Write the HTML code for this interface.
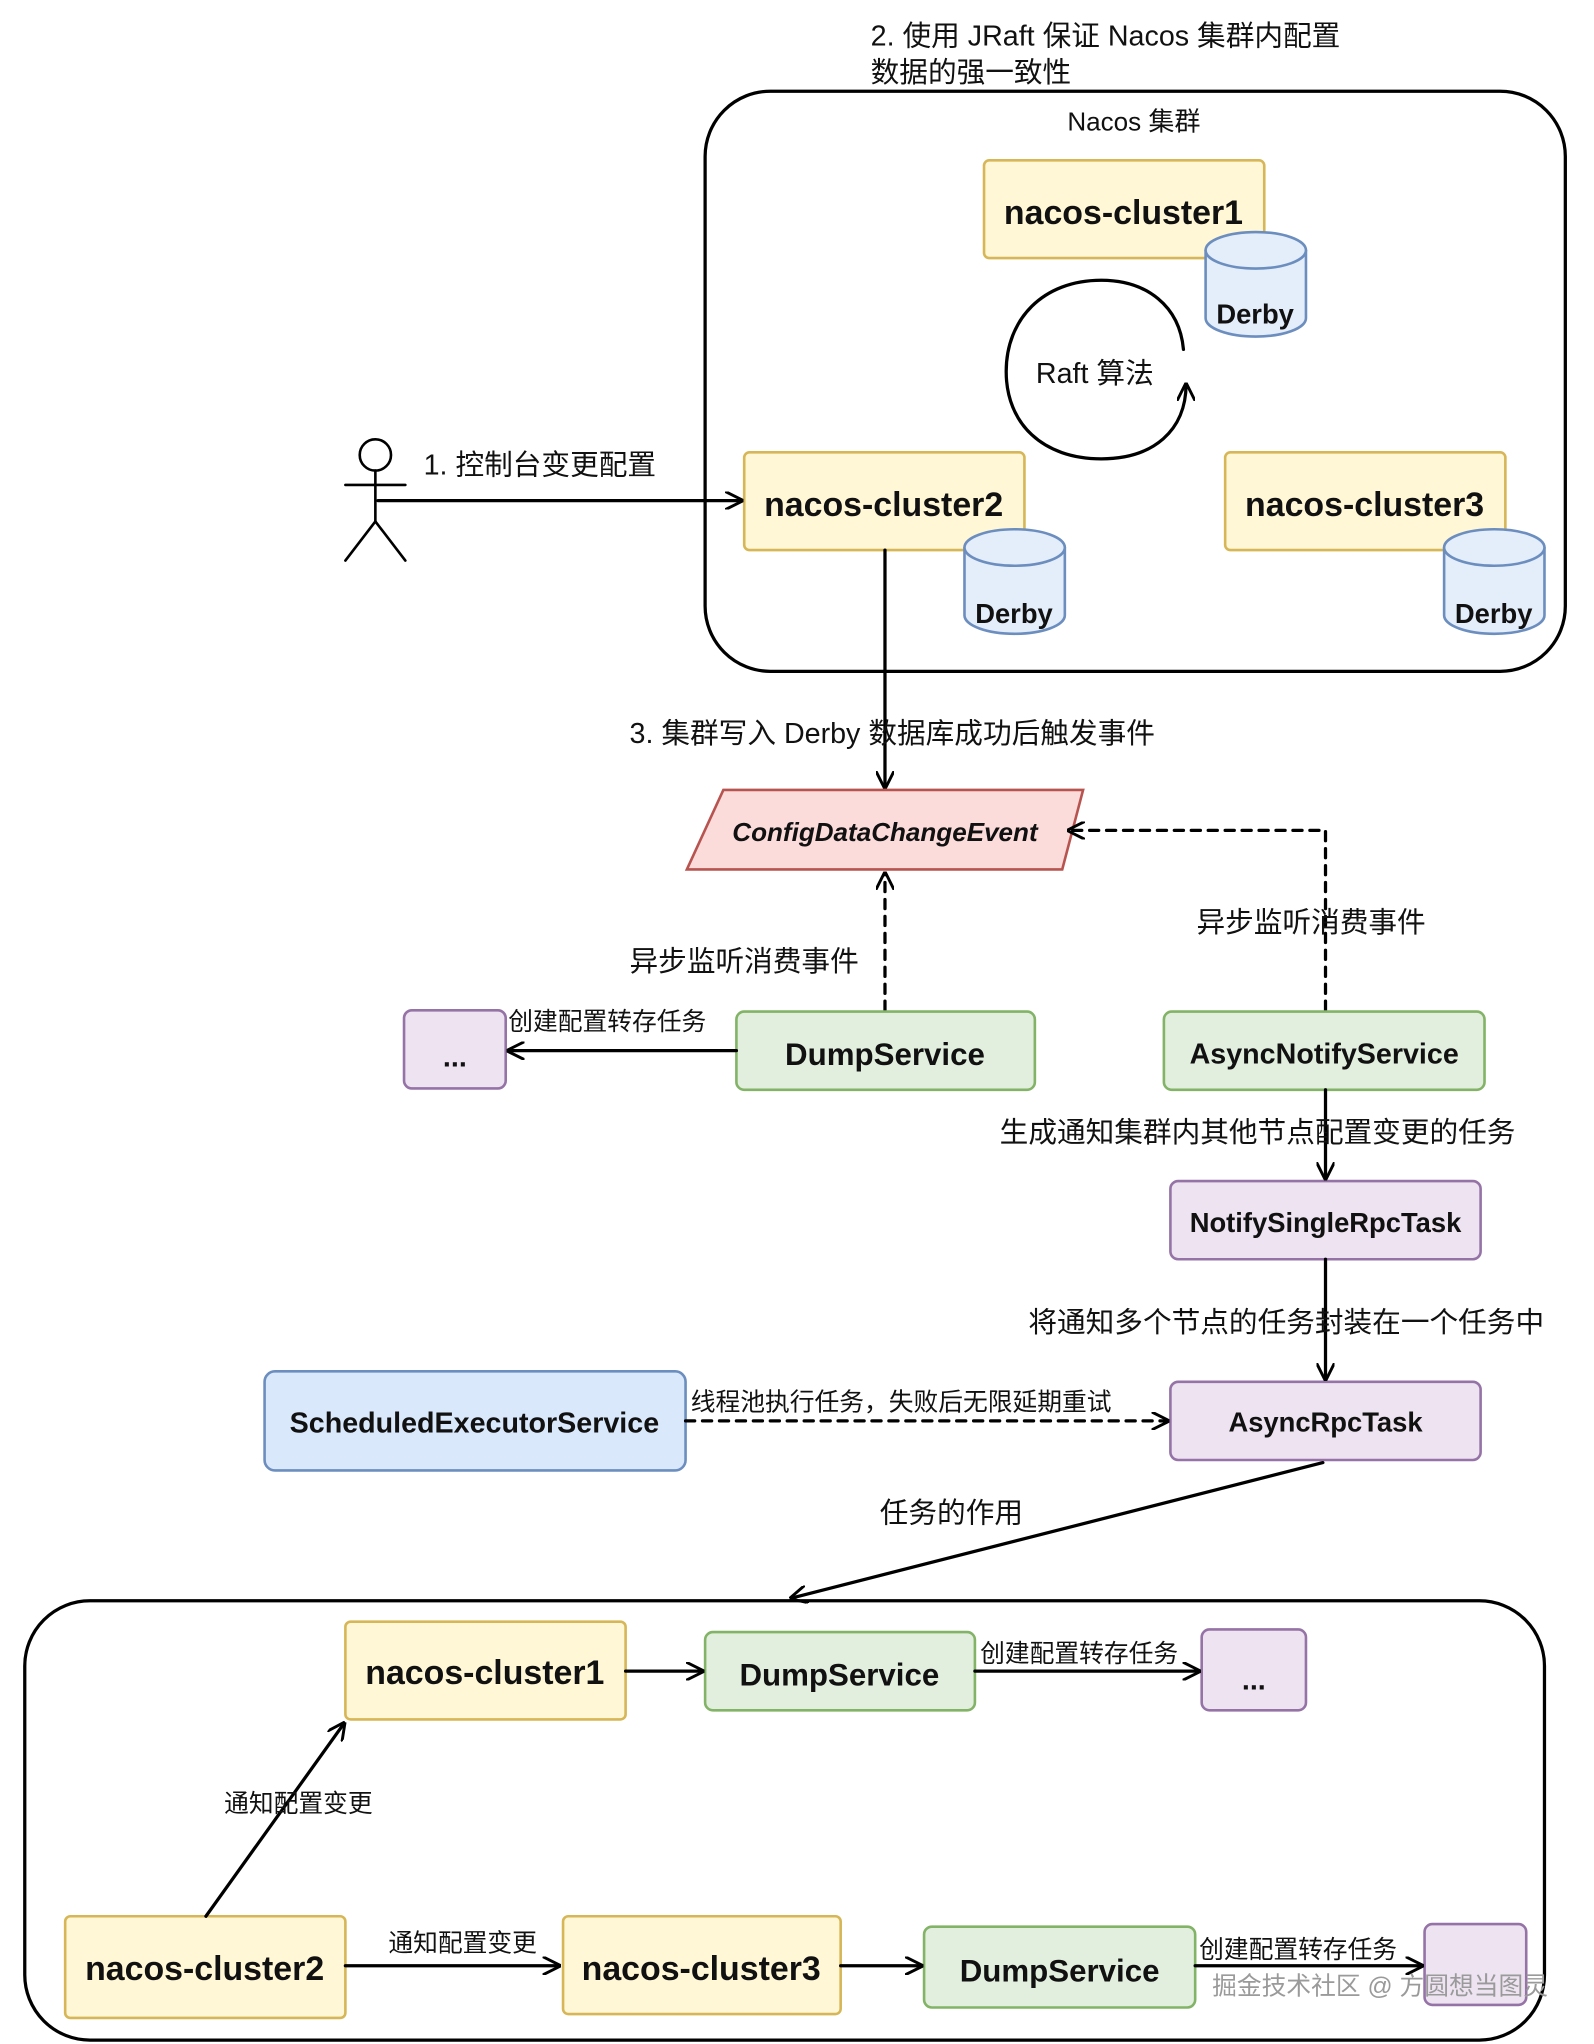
<!DOCTYPE html>
<html><head><meta charset="utf-8"><style>
html,body{margin:0;padding:0;background:#fff}
svg{display:block}
text{font-family:"Liberation Sans","Noto Sans CJK SC",sans-serif;fill:#111}
.b{font-weight:bold}
</style></head><body>
<svg width="1594" height="2044" viewBox="0 0 1223 1568" preserveAspectRatio="none" xmlns="http://www.w3.org/2000/svg">
<defs>
<marker id="a2" viewBox="0 0 10 10" refX="9" refY="5" markerWidth="14" markerHeight="14" orient="auto" markerUnits="userSpaceOnUse"><path d="M0,0 L10,5 L0,10" fill="none" stroke="#000" stroke-width="1.6"/></marker>
</defs>
<g stroke-linecap="round">
<text x="668" y="35" font-size="22">2. 使用 JRaft 保证 Nacos 集群内配置</text>
<text x="668" y="63" font-size="22">数据的强一致性</text>
<rect x="541" y="70" width="660" height="445" rx="50" fill="none" stroke="#000" stroke-width="2.5"/>
<text x="870" y="100" font-size="20" text-anchor="middle">Nacos 集群</text>

<g fill="#fff7d6" stroke="#d6b656" stroke-width="2">
<rect x="755" y="123" width="215" height="75" rx="4"/>
<rect x="571" y="347" width="215" height="75" rx="4"/>
<rect x="940" y="347" width="215" height="75" rx="4"/>
</g>
<g class="b" font-size="26" text-anchor="middle">
<text x="862" y="172" class="b">nacos-cluster1</text>
<text x="678" y="396" class="b">nacos-cluster2</text>
<text x="1047" y="396" class="b">nacos-cluster3</text>
</g>
<g fill="#e4eefb" stroke="#6c8ebf" stroke-width="2">
<path d="M925,192 v52 a38,14 0 0 0 77,0 v-52"/><ellipse cx="963.5" cy="192" rx="38.5" ry="14"/>
<path d="M740,420 v52 a38,14 0 0 0 77,0 v-52"/><ellipse cx="778.5" cy="420" rx="38.5" ry="14"/>
<path d="M1108,420 v52 a38,14 0 0 0 77,0 v-52"/><ellipse cx="1146.5" cy="420" rx="38.5" ry="14"/>
</g>
<text x="963" y="248" font-size="21" class="b" text-anchor="middle">Derby</text>
<text x="778" y="478" font-size="21" class="b" text-anchor="middle">Derby</text>
<text x="1146" y="478" font-size="21" class="b" text-anchor="middle">Derby</text>
<path d="M908,268 C905,235 880,215 845,215 C800,215 772,245 772,285 C772,325 800,352 845,352 C885,352 910,330 910,295" fill="none" stroke="#000" stroke-width="2.5" marker-end="url(#a2)"/>
<text x="840" y="294" font-size="22" text-anchor="middle">Raft 算法</text>

<g stroke="#000" stroke-width="2" fill="none">
<circle cx="288" cy="349" r="12"/>
<line x1="288" y1="361" x2="288" y2="400"/>
<line x1="265" y1="372" x2="311" y2="372"/>
<line x1="288" y1="400" x2="265" y2="430"/>
<line x1="288" y1="400" x2="311" y2="430"/>
</g>
<line x1="290" y1="384" x2="569" y2="384" stroke="#000" stroke-width="2.5" marker-end="url(#a2)"/>
<text x="325" y="364" font-size="22">1. 控制台变更配置</text>

<line x1="679" y1="422" x2="679" y2="604" stroke="#000" stroke-width="2.5" marker-end="url(#a2)"/>
<text x="483" y="570" font-size="22">3. 集群写入 Derby 数据库成功后触发事件</text>

<polygon points="555,606 831,606 815,667 527,667" fill="#fbdcdb" stroke="#b85450" stroke-width="2"/>
<text x="679" y="645" font-size="20" class="b" font-style="italic" text-anchor="middle">ConfigDataChangeEvent</text>

<line x1="679" y1="775" x2="679" y2="670" stroke="#000" stroke-width="2.5" stroke-dasharray="7,6" marker-end="url(#a2)"/>
<text x="483" y="745" font-size="22">异步监听消费事件</text>
<polyline points="1017,775 1017,637 820,637" fill="none" stroke="#000" stroke-width="2.5" stroke-dasharray="7,6" marker-end="url(#a2)"/>
<text x="918" y="715" font-size="22">异步监听消费事件</text>

<g stroke-width="2">
<rect x="565" y="776" width="229" height="60" rx="6" fill="#e2efdf" stroke="#82b366"/>
<rect x="893" y="776" width="246" height="60" rx="6" fill="#e2efdf" stroke="#82b366"/>
<rect x="310" y="775" width="78" height="60" rx="6" fill="#ede3f1" stroke="#9673a6"/>
<rect x="898" y="906" width="238" height="60" rx="6" fill="#ede3f1" stroke="#9673a6"/>
<rect x="898" y="1060" width="238" height="60" rx="6" fill="#ede3f1" stroke="#9673a6"/>
<rect x="203" y="1052" width="323" height="76" rx="8" fill="#dae8fc" stroke="#6c8ebf"/>
</g>
<text x="679" y="817" font-size="24" class="b" text-anchor="middle">DumpService</text>
<text x="1016" y="816" font-size="22" class="b" text-anchor="middle">AsyncNotifyService</text>
<text x="349" y="818" font-size="22" class="b" text-anchor="middle">...</text>
<text x="1017" y="945" font-size="21" class="b" text-anchor="middle">NotifySingleRpcTask</text>
<text x="1017" y="1098" font-size="21" class="b" text-anchor="middle">AsyncRpcTask</text>
<text x="364" y="1099" font-size="22" class="b" text-anchor="middle">ScheduledExecutorService</text>

<line x1="565" y1="806" x2="390" y2="806" stroke="#000" stroke-width="2.5" marker-end="url(#a2)"/>
<text x="390" y="790" font-size="19">创建配置转存任务</text>
<line x1="1017" y1="836" x2="1017" y2="904" stroke="#000" stroke-width="2.5" marker-end="url(#a2)"/>
<text x="767" y="876" font-size="22">生成通知集群内其他节点配置变更的任务</text>
<line x1="1017" y1="966" x2="1017" y2="1058" stroke="#000" stroke-width="2.5" marker-end="url(#a2)"/>
<text x="789" y="1022" font-size="22">将通知多个节点的任务封装在一个任务中</text>
<line x1="526" y1="1090" x2="896" y2="1090" stroke="#000" stroke-width="2.5" stroke-dasharray="7,6" marker-end="url(#a2)"/>
<text x="530" y="1082" font-size="19">线程池执行任务，失败后无限延期重试</text>
<line x1="1015" y1="1122" x2="607" y2="1226" stroke="#000" stroke-width="2.5" marker-end="url(#a2)"/>
<text x="675" y="1168" font-size="22">任务的作用</text>

<rect x="19" y="1228" width="1166" height="337" rx="50" fill="none" stroke="#000" stroke-width="2.5"/>
<g fill="#fff7d6" stroke="#d6b656" stroke-width="2">
<rect x="265" y="1244" width="215" height="75" rx="4"/>
<rect x="50" y="1470" width="215" height="78" rx="4"/>
<rect x="432" y="1470" width="213" height="75" rx="4"/>
</g>
<g stroke-width="2">
<rect x="541" y="1252" width="207" height="60" rx="6" fill="#e2efdf" stroke="#82b366"/>
<rect x="709" y="1478" width="208" height="62" rx="6" fill="#e2efdf" stroke="#82b366"/>
<rect x="922" y="1250" width="80" height="62" rx="6" fill="#ede3f1" stroke="#9673a6"/>
<rect x="1093" y="1476" width="78" height="62" rx="6" fill="#ede3f1" stroke="#9673a6"/>
</g>
<text x="372" y="1292" font-size="26" class="b" text-anchor="middle">nacos-cluster1</text>
<text x="157" y="1519" font-size="26" class="b" text-anchor="middle">nacos-cluster2</text>
<text x="538" y="1519" font-size="26" class="b" text-anchor="middle">nacos-cluster3</text>
<text x="644" y="1293" font-size="24" class="b" text-anchor="middle">DumpService</text>
<text x="813" y="1520" font-size="24" class="b" text-anchor="middle">DumpService</text>
<text x="962" y="1296" font-size="22" class="b" text-anchor="middle">...</text>

<line x1="480" y1="1282" x2="539" y2="1282" stroke="#000" stroke-width="2.5" marker-end="url(#a2)"/>
<line x1="748" y1="1282" x2="920" y2="1282" stroke="#000" stroke-width="2.5" marker-end="url(#a2)"/>
<text x="752" y="1275" font-size="19">创建配置转存任务</text>
<line x1="158" y1="1470" x2="264" y2="1322" stroke="#000" stroke-width="2.5" marker-end="url(#a2)"/>
<text x="172" y="1390" font-size="19">通知配置变更</text>
<line x1="265" y1="1508" x2="429" y2="1508" stroke="#000" stroke-width="2.5" marker-end="url(#a2)"/>
<text x="298" y="1497" font-size="19">通知配置变更</text>
<line x1="645" y1="1508" x2="707" y2="1508" stroke="#000" stroke-width="2.5" marker-end="url(#a2)"/>
<line x1="917" y1="1508" x2="1091" y2="1508" stroke="#000" stroke-width="2.5" marker-end="url(#a2)"/>
<text x="920" y="1502" font-size="19">创建配置转存任务</text>
<text x="930" y="1530" font-size="19" style="fill:#9a9a9a">掘金技术社区 @ 方圆想当图灵</text>
</g>
</svg>
</body></html>
